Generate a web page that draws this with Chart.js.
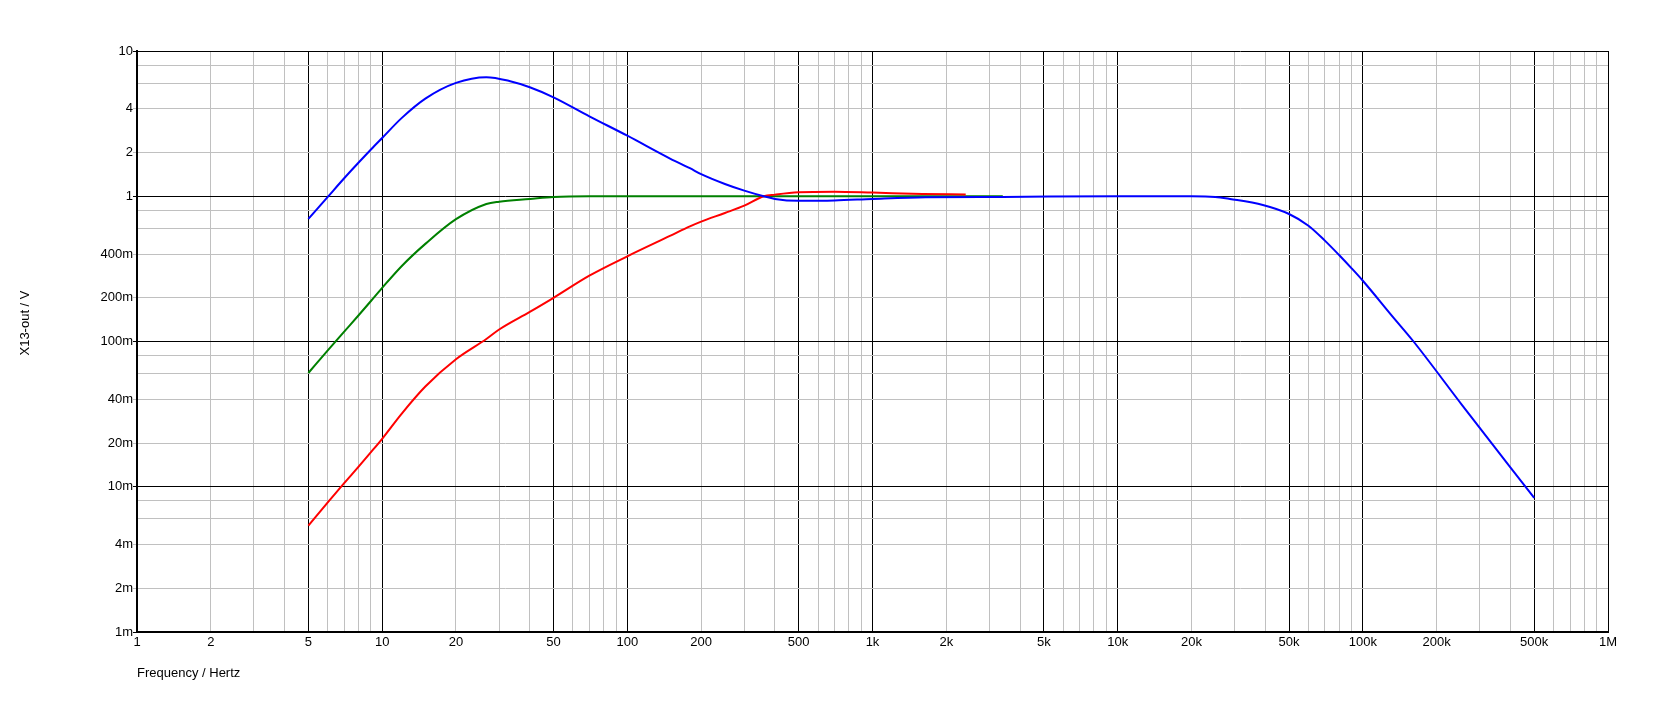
<!DOCTYPE html>
<html>
<head>
<meta charset="utf-8">
<script src="https://cdn.jsdelivr.net/npm/chart.js@4.4.1/dist/chart.umd.min.js"></script>
<style>
  html, body { margin: 0; padding: 0; background: #fff; }
  #wrap { position: relative; width: 1669px; height: 717px; }
</style>
</head>
<body>
<div id="wrap"><canvas id="c"></canvas></div>
<script>
// ---- data ----
const blueFreq = [5,6,7,8,9,10,12,15,20,26.6,33,40,50,70,100,150,180,200,250,300,360,400,500,700,1000,1650,3400,10000,20000,25000,28700,39100,50000,60000,70000,80000,90000,100000,132000,161000,254000,500000];
const blueVals = [0.698,0.99,1.33,1.70,2.10,2.52,3.45,4.7,6.03,6.6,6.22,5.63,4.8,3.55,2.61,1.81,1.56,1.42,1.215,1.093,1.0,0.958,0.93,0.935,0.958,0.984,0.99,1.0,1.0,0.99,0.958,0.871,0.755,0.627,0.495,0.394,0.319,0.262,0.149,0.1,0.0365,0.00837];

const greenFreq = [5,6,7,8,9,10,12,15,20,26.6,30,40,50,70,100,1000,3400];
const greenVals = [0.0607,0.087,0.117,0.151,0.19,0.234,0.33,0.47,0.695,0.885,0.918,0.958,0.989,1.0,1.0,1.0,1.0];

const redFreq = [5,6,7,8,9,10,12,15,20,26.6,30,40,50,70,100,150,180,200,250,300,360,400,500,700,1000,1600,2400];
const redVals = [0.0054,0.0078,0.0106,0.0137,0.0173,0.0214,0.0318,0.049,0.0755,0.104,0.121,0.16,0.2,0.284,0.386,0.535,0.62,0.669,0.767,0.862,1.0,1.026,1.065,1.075,1.06,1.037,1.03];

// ---- ticks ----
const xTickValues = [1,2,3,4,5,6,7,8,9,10,20,30,40,50,60,70,80,90,100,200,300,400,500,600,700,800,900,
  1000,2000,3000,4000,5000,6000,7000,8000,9000,10000,20000,30000,40000,50000,60000,70000,80000,90000,
  100000,200000,300000,400000,500000,600000,700000,800000,900000,1000000];
const xLabelValues = [1,2,5,10,20,50,100,200,500,1000,2000,5000,10000,20000,50000,100000,200000,500000,1000000];
const xLabelTexts  = ['1','2','5','10','20','50','100','200','500','1k','2k','5k','10k','20k','50k','100k','200k','500k','1M'];
const xMajorValues = [1,5,10,50,100,500,1000,5000,10000,50000,100000,500000,1000000];

const yTickValues = [0.001,0.002,0.004,0.006,0.008,0.01,0.02,0.04,0.06,0.08,0.1,0.2,0.4,0.6,0.8,1,2,4,6,8,10];
const yLabelValues = [0.001,0.002,0.004,0.01,0.02,0.04,0.1,0.2,0.4,1,2,4,10];
const yLabelTexts  = ['1m','2m','4m','10m','20m','40m','100m','200m','400m','1','2','4','10'];
const yMajorValues = [0.001,0.01,0.1,1,10];

const near = (a, b) => Math.abs(a - b) / b < 1e-6;
const idxIn = (arr, v) => arr.findIndex(a => near(v, a));

const toPts = (fs, vs) => fs.map((f, i) => ({x: f, y: vs[i]}));

const FONT = '"Liberation Sans", Arial, sans-serif';
const GRID_MINOR = '#c0c0c0';

const titlesPlugin = {
  id: 'axisTitles',
  afterDraw(chart) {
    const ctx = chart.ctx;
    ctx.save();
    ctx.fillStyle = '#000';
    ctx.font = '13px ' + FONT;
    ctx.textAlign = 'left';
    ctx.textBaseline = 'middle';
    ctx.fillText('Frequency / Hertz', 137, 673);
    ctx.translate(25, 323);
    ctx.rotate(-Math.PI / 2);
    ctx.textAlign = 'center';
    ctx.fillText('X13-out / V', 0, 0);
    ctx.restore();
  }
};

new Chart(document.getElementById('c'), {
  type: 'line',
  data: {
    datasets: [
      { label: 'blue', data: toPts(blueFreq, blueVals), borderColor: '#0000ff', borderWidth: 2,
        pointRadius: 0, fill: false, cubicInterpolationMode: 'monotone' },
      { label: 'red', data: toPts(redFreq, redVals), borderColor: '#ff0000', borderWidth: 2,
        pointRadius: 0, fill: false, cubicInterpolationMode: 'monotone' },
      { label: 'green', data: toPts(greenFreq, greenVals), borderColor: '#008000', borderWidth: 2,
        pointRadius: 0, fill: false, cubicInterpolationMode: 'monotone' }
    ]
  },
  options: {
    responsive: true,
    maintainAspectRatio: false,
    animation: false,
    events: [],
    layout: { padding: { top: 51, right: 61, left: 0, bottom: 0 } },
    plugins: { legend: { display: false }, tooltip: { enabled: false } },
    scales: {
      x: {
        type: 'logarithmic',
        min: 1, max: 1000000,
        afterBuildTicks: s => { s.ticks = xTickValues.map(v => ({ value: v })); },
        afterFit: s => { s.height = 85; },
        grid: {
          color: c => (c.tick && idxIn(xMajorValues, c.tick.value) >= 0) ? '#000' : GRID_MINOR,
          lineWidth: 1,
          drawTicks: false
        },
        border: { display: true, color: '#000', width: 2 },
        ticks: {
          autoSkip: false, maxRotation: 0, minRotation: 0, padding: 3,
          color: '#000', font: { family: FONT, size: 13 },
          callback: v => { const i = idxIn(xLabelValues, v); return i >= 0 ? xLabelTexts[i] : ''; }
        }
      },
      y: {
        type: 'logarithmic',
        min: 0.001, max: 10,
        afterBuildTicks: s => { s.ticks = yTickValues.map(v => ({ value: v })); },
        afterFit: s => { s.width = 137; },
        grid: {
          color: c => (c.tick && idxIn(yMajorValues, c.tick.value) >= 0) ? '#000' : GRID_MINOR,
          tickColor: c => {
            if (!c.tick || idxIn(yLabelValues, c.tick.value) < 0) return 'rgba(0,0,0,0)';
            return idxIn(yMajorValues, c.tick.value) >= 0 ? '#000' : GRID_MINOR;
          },
          lineWidth: 1,
          tickLength: 4
        },
        border: { display: true, color: '#000', width: 2 },
        ticks: {
          autoSkip: false, padding: 0,
          color: '#000', font: { family: FONT, size: 13 },
          callback: v => { const i = idxIn(yLabelValues, v); return i >= 0 ? yLabelTexts[i] : ''; }
        }
      }
    }
  },
  plugins: [titlesPlugin]
});
</script>
</body>
</html>
